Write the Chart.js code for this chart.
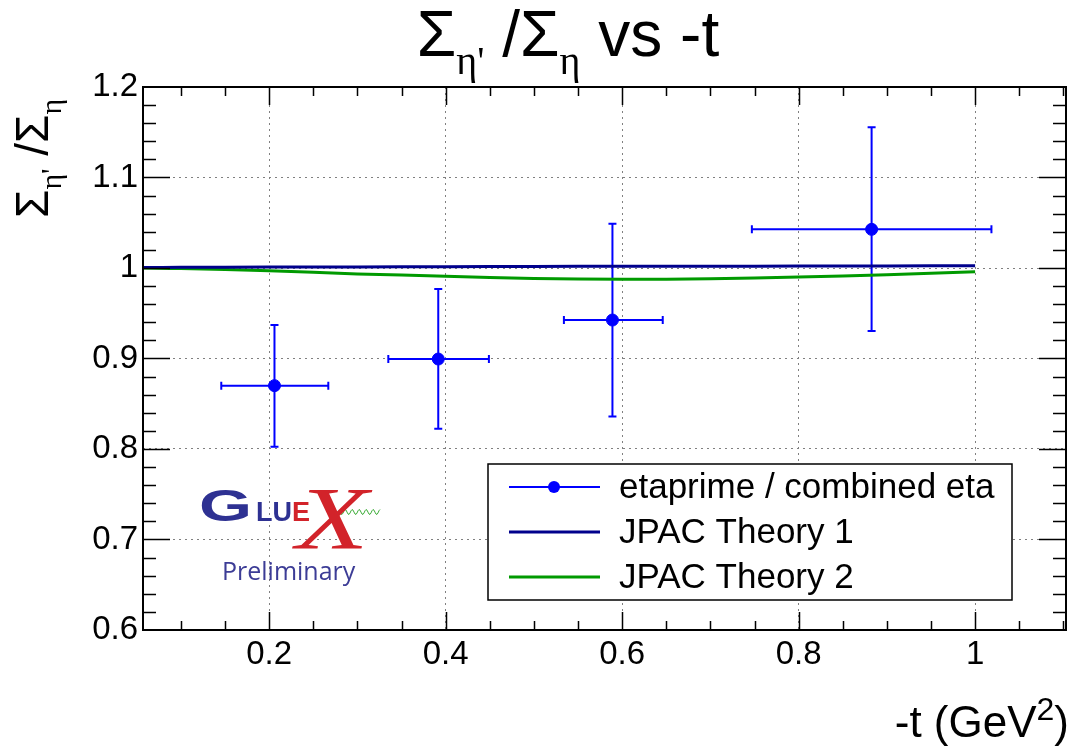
<!DOCTYPE html>
<html>
<head>
<meta charset="utf-8">
<script src="https://cdn.jsdelivr.net/npm/chart.js@4.4.1/dist/chart.umd.min.js"></script>
<style>
  html, body { margin: 0; padding: 0; background: #fff; }
  #c { display: block; }
</style>
</head>
<body>
<canvas id="c" width="1077" height="746"></canvas>
<script>
// measured points: -t, ratio and asymmetric errors
const tVals = [0.206, 0.3916, 0.589, 0.8827];
const ratio = [0.870, 0.8994, 0.9425, 1.0427];
const tLo = [0.1457, 0.335, 0.534, 0.747];
const tHi = [0.267, 0.449, 0.646, 1.0185];
const ratioLo = [0.8025, 0.8224, 0.836, 0.9304];
const ratioHi = [0.937, 0.9768, 1.049, 1.1555];

// theory curves
const theoryT = [0.057, 0.1, 0.2, 0.3, 0.4, 0.5, 0.6, 0.7, 0.8, 0.9, 1.0];
const theory1 = [1.0005, 1.0007, 1.001, 1.0012, 1.0015, 1.0017, 1.002, 1.002, 1.0021, 1.0023, 1.0026];
const theory2 = [1.0, 0.9995, 0.997, 0.9935, 0.991, 0.9885, 0.9875, 0.988, 0.990, 0.9925, 0.9958];

const xTicks = [0.2, 0.4, 0.6, 0.8, 1.0];
const yTicks = [0.6, 0.7, 0.8, 0.9, 1.0, 1.1, 1.2];

const SANS = '"Liberation Sans", Arial, sans-serif';
const SERIF = '"Liberation Serif", serif';

function drawPieces(ctx, pieces, x, y) {
    // pieces: [text, font, dy]
    pieces.forEach(p => {
        ctx.font = p[1];
        ctx.fillText(p[0], x, y + (p[2] || 0));
        x += ctx.measureText(p[0]).width;
    });
    return x;
}
function piecesWidth(ctx, pieces) {
    return pieces.reduce((w, p) => { ctx.font = p[1]; return w + ctx.measureText(p[0]).width; }, 0);
}

const errorBars = {
    id: 'errorBars',
    beforeDatasetsDraw(chart) {
        const ctx = chart.ctx, xs = chart.scales.x, ys = chart.scales.y;
        ctx.save();
        ctx.strokeStyle = '#0000ff';
        ctx.lineWidth = 2;
        tVals.forEach((t, i) => {
            const px = xs.getPixelForValue(t), py = ys.getPixelForValue(ratio[i]);
            const x0 = xs.getPixelForValue(tLo[i]), x1 = xs.getPixelForValue(tHi[i]);
            const y0 = ys.getPixelForValue(ratioLo[i]), y1 = ys.getPixelForValue(ratioHi[i]);
            ctx.beginPath();
            ctx.moveTo(x0, py); ctx.lineTo(x1, py);
            ctx.moveTo(px, y0); ctx.lineTo(px, y1);
            // end caps
            ctx.moveTo(x0, py - 4); ctx.lineTo(x0, py + 4);
            ctx.moveTo(x1, py - 4); ctx.lineTo(x1, py + 4);
            ctx.moveTo(px - 4, y0); ctx.lineTo(px + 4, y0);
            ctx.moveTo(px - 4, y1); ctx.lineTo(px + 4, y1);
            ctx.stroke();
        });
        ctx.restore();
    }
};

const frame = {
    id: 'frame',
    afterDraw(chart) {
        const ctx = chart.ctx, a = chart.chartArea, xs = chart.scales.x, ys = chart.scales.y;
        ctx.save();
        ctx.strokeStyle = '#000';
        ctx.lineWidth = 1.5;
        ctx.beginPath();
        // inside ticks on all four sides
        for (let v = 0.1; v < 1.101; v += 0.05) {
            const major = xTicks.some(m => Math.abs(m - v) < 1e-6);
            const len = major ? 18 : 9;
            const px = Math.round(xs.getPixelForValue(v)) + 0.5;
            ctx.moveTo(px, a.bottom); ctx.lineTo(px, a.bottom - len);
            ctx.moveTo(px, a.top); ctx.lineTo(px, a.top + len);
        }
        for (let v = 0.62; v < 1.199; v += 0.02) {
            const major = yTicks.some(m => Math.abs(m - v) < 1e-6);
            const len = major ? 27 : 13;
            const py = Math.round(ys.getPixelForValue(v)) + 0.5;
            ctx.moveTo(a.left, py); ctx.lineTo(a.left + len, py);
            ctx.moveTo(a.right, py); ctx.lineTo(a.right - len, py);
        }
        ctx.stroke();
        ctx.lineWidth = 2;
        ctx.strokeRect(a.left, a.top, a.right - a.left, a.bottom - a.top);

        // legend
        const ds = chart.data.datasets;
        const lx = 488, ly = 464, lw = 524, lh = 136;
        ctx.fillStyle = '#fff';
        ctx.fillRect(lx, ly, lw, lh);
        ctx.lineWidth = 1.5;
        ctx.strokeRect(lx, ly, lw, lh);
        ds.forEach((d, i) => {
            const ry = 487 + i * 45;
            ctx.strokeStyle = d.borderColor;
            ctx.lineWidth = i === 0 ? 2 : 3;
            ctx.beginPath(); ctx.moveTo(509, ry); ctx.lineTo(600, ry); ctx.stroke();
            if (i === 0) {
                ctx.fillStyle = d.backgroundColor;
                ctx.beginPath(); ctx.arc(554, ry, 6, 0, Math.PI * 2); ctx.fill();
            }
            ctx.fillStyle = '#000';
            ctx.font = '35px ' + SANS;
            ctx.textBaseline = 'middle';
            ctx.fillText(d.label, 619, ry + 1);
        });
        ctx.textBaseline = 'alphabetic';

        // title
        ctx.fillStyle = '#000';
        const main = '64px ' + SANS, sub = '40px ' + SERIF;
        const tp = [['\u03A3', main], ["\u03B7'", sub, 18], [' /\u03A3', main], ['\u03B7', sub, 18], [' vs -t', main]];
        drawPieces(ctx, tp, 568 - piecesWidth(ctx, tp) / 2, 56);

        // y axis title
        ctx.save();
        ctx.translate(48, 218);
        ctx.rotate(-Math.PI / 2);
        const ym = '46px ' + SANS, ysb = '30px ' + SERIF;
        drawPieces(ctx, [['\u03A3', ym], ["\u03B7'", ysb, 13], [' /\u03A3', ym], ['\u03B7', ysb, 13]], 0, 0);
        ctx.restore();

        // x axis title
        const xp = [['-t (GeV', '44px ' + SANS], ['2', '32px ' + SANS, -17], [')', '44px ' + SANS]];
        drawPieces(ctx, xp, 1069 - piecesWidth(ctx, xp), 737);

        // GlueX logo
        ctx.fillStyle = '#2e3192';
        ctx.save();
        ctx.translate(199, 521);
        ctx.scale(1.55, 1);
        ctx.font = 'bold 44px ' + SANS;
        ctx.fillText('G', 0, 0);
        ctx.restore();
        ctx.font = 'bold 27px ' + SANS;
        ctx.fillText('LU', 256, 521);
        ctx.fillStyle = '#d2232a';
        ctx.fillText('E', 292, 521);
        ctx.strokeStyle = '#3aaa35';
        ctx.lineWidth = 1;
        ctx.beginPath();
        for (let k = 0; k <= 40; k++) {
            const wx = 340 + k, wy = 512 + 2.5 * Math.sin(k * 0.9);
            k === 0 ? ctx.moveTo(wx, wy) : ctx.lineTo(wx, wy);
        }
        ctx.stroke();
        ctx.save();
        ctx.fillStyle = '#d2232a';
        ctx.translate(296, 548);
        ctx.scale(1.35, 1);
        ctx.font = 'italic 88px ' + SERIF;
        ctx.fillText('X', 0, 0);
        ctx.restore();
        ctx.fillStyle = '#3c3c96';
        ctx.font = '25px "Open Sans", sans-serif';
        ctx.fillText('Preliminary', 222, 580);
        ctx.restore();
    }
};

new Chart(document.getElementById('c'), {
    type: 'scatter',
    data: {
        datasets: [{
            label: 'etaprime / combined eta',
            data: tVals.map((t, i) => ({ x: t, y: ratio[i] })),
            borderColor: '#0000ff',
            backgroundColor: '#0000ff',
            pointRadius: 6,
            pointHoverRadius: 6,
            showLine: false,
            order: 0
        }, {
            label: 'JPAC Theory 1',
            type: 'line',
            data: theoryT.map((t, i) => ({ x: t, y: theory1[i] })),
            borderColor: '#00008c',
            borderWidth: 3,
            pointRadius: 0,
            tension: 0.4,
            fill: false,
            order: 1
        }, {
            label: 'JPAC Theory 2',
            type: 'line',
            data: theoryT.map((t, i) => ({ x: t, y: theory2[i] })),
            borderColor: '#009a00',
            borderWidth: 3,
            pointRadius: 0,
            tension: 0.4,
            fill: false,
            order: 2
        }]
    },
    options: {
        responsive: false,
        animation: false,
        devicePixelRatio: 1,
        layout: { padding: { top: 87, right: 11, left: 0, bottom: 0 } },
        plugins: { legend: { display: false }, tooltip: { enabled: false } },
        scales: {
            x: {
                type: 'linear',
                min: 0.057,
                max: 1.103,
                afterBuildTicks: s => { s.ticks = xTicks.map(v => ({ value: v })); },
                afterFit: s => { s.height = 116; },
                ticks: {
                    font: { family: SANS, size: 33 },
                    color: '#000',
                    padding: 5,
                    maxRotation: 0,
                    autoSkip: false,
                    callback: v => String(+v.toFixed(1))
                },
                grid: { color: '#808080', lineWidth: 1, drawTicks: false },
                border: { display: false, dash: [2, 4] }
            },
            y: {
                min: 0.6,
                max: 1.2,
                afterBuildTicks: s => { s.ticks = yTicks.map(v => ({ value: v })); },
                afterFit: s => { s.width = 143; },
                ticks: {
                    font: { family: SANS, size: 33 },
                    color: '#000',
                    padding: 5,
                    autoSkip: false,
                    callback: v => String(+v.toFixed(1))
                },
                grid: { color: '#808080', lineWidth: 1, drawTicks: false },
                border: { display: false, dash: [2, 4] }
            }
        }
    },
    plugins: [errorBars, frame]
});
</script>
</body>
</html>
